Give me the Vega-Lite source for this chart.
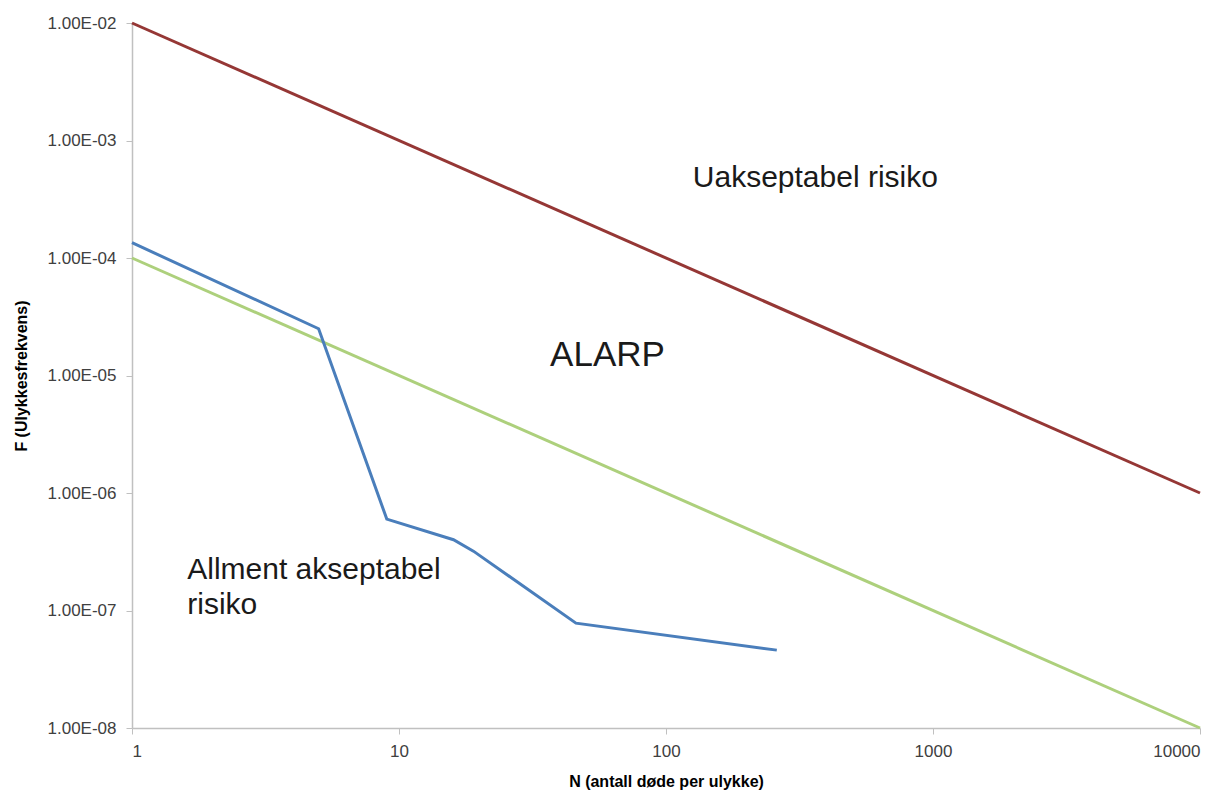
{
  "$schema": "https://vega.github.io/schema/vega-lite/v6.json",
  "width": 1068,
  "height": 705,
  "autosize": {"type": "none"},
  "padding": {"left": 132, "top": 23, "right": 29, "bottom": 63},
  "background": "white",
  "config": {
    "view": {"stroke": null},
    "font": "Liberation Sans",
    "axis": {
      "grid": false,
      "domainColor": "#c0c0c0",
      "domainWidth": 1.5,
      "tickColor": "#c0c0c0",
      "tickSize": 6,
      "labelColor": "#404040",
      "labelFont": "Liberation Sans",
      "labelFontSize": 17,
      "titleFont": "Liberation Sans",
      "titleFontWeight": "bold",
      "titleFontSize": 16,
      "titleColor": "#000000"
    }
  },
  "layer": [
    {
      "data": {
        "values": [
          {"series": "Uakseptabel", "N": 1, "F": 0.01},
          {"series": "Uakseptabel", "N": 10000, "F": 0.000001},
          {"series": "Akseptabel", "N": 1, "F": 0.0001},
          {"series": "Akseptabel", "N": 10000, "F": 0.00000001},
          {"series": "FN", "N": 1, "F": 0.000135},
          {"series": "FN", "N": 5, "F": 0.000025},
          {"series": "FN", "N": 9, "F": 0.0000006},
          {"series": "FN", "N": 16, "F": 0.0000004},
          {"series": "FN", "N": 19, "F": 0.00000032},
          {"series": "FN", "N": 46, "F": 0.000000078},
          {"series": "FN", "N": 260, "F": 0.000000046}
        ]
      },
      "mark": {"type": "line", "strokeWidth": 3},
      "encoding": {
        "x": {
          "field": "N",
          "type": "quantitative",
          "scale": {"type": "log", "domain": [1, 10000], "nice": false},
          "axis": {
            "values": [1, 10, 100, 1000, 10000],
            "format": "d",
            "title": "N (antall døde per ulykke)",
            "labelPadding": 9,
            "titlePadding": 14
          }
        },
        "y": {
          "field": "F",
          "type": "quantitative",
          "scale": {"type": "log", "domain": [0.00000001, 0.01], "nice": false},
          "axis": {
            "values": [0.00000001, 0.0000001, 0.000001, 0.00001, 0.0001, 0.001, 0.01],
            "labelExpr": "'1.00E-0' + (-round(log(datum.value) / LN10))",
            "title": "F (Ulykkesfrekvens)",
            "titleFontSize": 16,
            "labelPadding": 10,
            "titlePadding": 18
          }
        },
        "color": {
          "field": "series",
          "type": "nominal",
          "scale": {"domain": ["Uakseptabel", "Akseptabel", "FN"], "range": ["#953735", "#add07c", "#4a7ebb"]},
          "legend": null
        },
        "detail": {"field": "series"}
      }
    },
    {
      "data": {
        "values": [
          {"label": "Uakseptabel risiko", "N": 126, "F": 0.00048, "size": 30},
          {"label": "ALARP", "N": 36.8, "F": 0.0000149, "size": 35},
          {"label": "Allment akseptabel", "N": 1.61, "F": 0.000000221, "size": 30},
          {"label": "risiko", "N": 1.61, "F": 0.000000111, "size": 30}
        ]
      },
      "mark": {"type": "text", "align": "left", "baseline": "middle", "font": "Liberation Sans", "color": "#1a1a1a"},
      "encoding": {
        "x": {"field": "N", "type": "quantitative"},
        "y": {"field": "F", "type": "quantitative"},
        "text": {"field": "label"},
        "size": {"field": "size", "type": "quantitative", "scale": null}
      }
    }
  ]
}
